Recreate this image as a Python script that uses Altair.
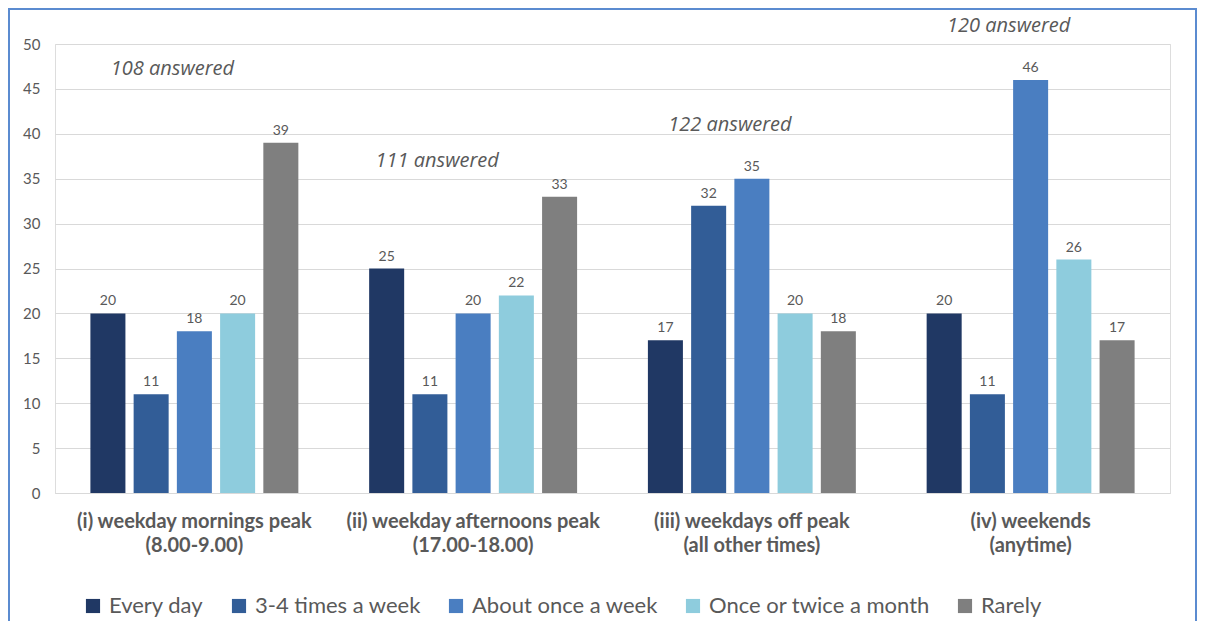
import altair as alt
import pandas as pd

groups = [
    "(i) weekday mornings peak\n(8.00-9.00)",
    "(ii) weekday afternoons peak\n(17.00-18.00)",
    "(iii) weekdays off peak\n(all other times)",
    "(iv) weekends\n(anytime)",
]
series = ["Every day", "3-4 times a week", "About once a week",
          "Once or twice a month", "Rarely"]
colors = ["#203864", "#325D97", "#4A7EC1", "#8ECCDD", "#7F7F7F"]

every_day = [20, 25, 17, 20]
three_four = [11, 11, 32, 11]
once_week = [18, 20, 35, 46]
once_twice_month = [20, 22, 20, 26]
rarely = [39, 33, 18, 17]

annot_text = ["108 answered", "111 answered", "122 answered", "120 answered"]
annot_y = [47.2, 37.0, 41.0, 52.0]

values = [every_day, three_four, once_week, once_twice_month, rarely]
rows = []
for s, vals in zip(series, values):
    for g, v in zip(groups, vals):
        rows.append({"group": g, "series": s, "value": v})
df = pd.DataFrame(rows)
ann = pd.DataFrame({"group": groups, "text": annot_text, "y": annot_y})

FONT = "Lato"
GREY = "#595959"

x_enc = alt.X("group:N", sort=groups,
              scale=alt.Scale(paddingInner=0.254, paddingOuter=0.127),
              axis=alt.Axis(title=None, labelExpr="split(datum.value, '\\n')",
                            labelAngle=0, labelFontSize=20, labelFontWeight="bold",
                            labelColor=GREY, labelFont=FONT, labelPadding=18,
                            labelLineHeight=24, labelLimit=400,
                            domain=True, domainColor="#D9D9D9", ticks=False))
y_scale = alt.Scale(domain=[0, 50])

bars = alt.Chart(df).mark_bar().encode(
    x=x_enc,
    xOffset=alt.XOffset("series:N", sort=series,
                        scale=alt.Scale(paddingInner=0.19, paddingOuter=0)),
    y=alt.Y("value:Q", scale=y_scale,
            axis=alt.Axis(title=None, values=list(range(0, 51, 5)), ticks=False,
                          domain=False, gridColor="#D9D9D9", labelFontSize=15,
                          labelColor=GREY, labelFont=FONT, labelPadding=15)),
    color=alt.Color("series:N", sort=series,
                    scale=alt.Scale(domain=series, range=colors),
                    legend=alt.Legend(title=None, orient="none", direction="horizontal",
                                      legendX=27, legendY=551,
                                      symbolType="square", symbolSize=200,
                                      symbolStrokeWidth=0, labelLimit=500,
                                      labelFontSize=22, labelColor=GREY, labelFont=FONT,
                                      columnPadding=24, labelOffset=5)),
)

labels = alt.Chart(df).mark_text(dy=-12, fontSize=14, color=GREY, font=FONT).encode(
    x=alt.X("group:N", sort=groups),
    xOffset=alt.XOffset("series:N", sort=series),
    y=alt.Y("value:Q", scale=y_scale),
    text=alt.Text("value:Q"),
)

annot_base = alt.Chart(ann).encode(
    x=alt.X("group:N", sort=groups),
    y=alt.Y("y:Q", scale=y_scale),
    text="text:N",
)
annots = annot_base.mark_text(fontSize=20, fontStyle="italic", color=GREY,
                              font="Open Sans", dx=-22).transform_filter(
    alt.datum.text != "111 answered")
annots2 = annot_base.mark_text(fontSize=20, fontStyle="italic", color=GREY,
                               font="Open Sans", dx=-36).transform_filter(
    alt.datum.text == "111 answered")

border = alt.Chart(ann).mark_rect(fill=None, stroke="#5B8BD0", strokeWidth=2,
                                  clip=False).encode(
    x=alt.value(-46), x2=alt.value(1141), y=alt.value(-35), y2=alt.value(640),
)

chart = alt.layer(bars, labels, annots, annots2, border).properties(
    width=1115, height=449,
    autosize=alt.AutoSizeParams(type="none"),
    padding={"left": 47, "top": 36, "right": 28, "bottom": 128},
).configure_view(stroke=None).configure(background="white")

chart.save("out.html", embed_options={"renderer": "svg", "actions": False})
